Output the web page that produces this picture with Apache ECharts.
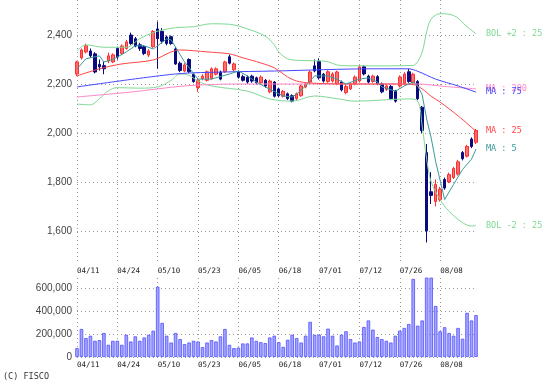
<!DOCTYPE html>
<html><head><meta charset="utf-8">
<script src="https://cdn.jsdelivr.net/npm/echarts@6/dist/echarts.min.js"></script>
<style>html,body{margin:0;padding:0;background:#fff}#c{width:557px;height:384px}</style>
</head><body><div id="c"></div>
<script>
const dates = ['04/11','04/12','04/15','04/16','04/17','04/18','04/19','04/22','04/23','04/24',
'04/25','04/26','04/30','05/01','05/02','05/07','05/08','05/09','05/10',
'05/13','05/14','05/15','05/16','05/17','05/20','05/21','05/22','05/23',
'05/24','05/27','05/28','05/29','05/30','05/31','06/03','06/04','06/05',
'06/06','06/07','06/10','06/11','06/12','06/13','06/14','06/17','06/18',
'06/19','06/20','06/21','06/24','06/25','06/26','06/27','06/28','07/01',
'07/02','07/03','07/04','07/05','07/08','07/09','07/10','07/11','07/12',
'07/16','07/17','07/18','07/19','07/22','07/23','07/24','07/25','07/26',
'07/29','07/30','07/31','08/01','08/02','08/05','08/06','08/07','08/08',
'08/09','08/13','08/14','08/15','08/16','08/19','08/20','08/21'];
const opens = [2241,2307,2331,2335,2323,2280,2275,2294,2290,2345,2325,2345,2400,2385,2360,2352,2318,2352,2425,2415,2392,2393,2343,2285,2253,2300,2240,2185,2222,2215,2222,2240,2249,2250,2311,2258,2250,2230,2228,2232,2225,2205,2215,2168,2208,2180,2150,2160,2152,2140,2152,2188,2208,2274,2292,2240,2210,2212,2200,2208,2165,2180,2200,2212,2270,2232,2210,2230,2200,2178,2190,2170,2192,2200,2250,2205,2210,2105,1920,1760,1720,1728,1810,1800,1818,1832,1920,1905,1975,1962];
const closes = [2290,2339,2356,2315,2249,2270,2262,2315,2319,2310,2355,2372,2365,2355,2345,2325,2335,2415,2385,2375,2365,2365,2282,2255,2278,2250,2210,2215,2232,2250,2262,2262,2220,2290,2285,2282,2228,2215,2208,2212,2205,2228,2192,2212,2150,2152,2170,2140,2130,2160,2192,2200,2249,2253,2225,2212,2250,2241,2249,2176,2190,2200,2228,2270,2241,2208,2232,2200,2168,2192,2140,2130,2228,2241,2210,2240,2140,2010,1600,1745,1790,1770,1775,1830,1855,1882,1895,1945,1945,2010];
const highs = [2295,2345,2365,2345,2330,2300,2290,2328,2325,2352,2362,2380,2410,2392,2368,2358,2342,2420,2455,2428,2398,2398,2350,2292,2285,2305,2245,2222,2240,2255,2268,2268,2255,2295,2320,2288,2255,2238,2235,2238,2230,2235,2220,2218,2212,2185,2176,2165,2158,2165,2198,2206,2255,2300,2305,2245,2256,2248,2255,2214,2196,2206,2235,2276,2276,2238,2238,2236,2206,2198,2196,2176,2235,2248,2262,2246,2216,2110,1955,1840,1810,1780,1818,1838,1862,1890,1926,1952,1982,2016];
const lows = [2232,2300,2325,2308,2243,2255,2240,2285,2285,2300,2318,2340,2360,2350,2335,2318,2310,2348,2262,2365,2358,2360,2278,2248,2248,2245,2205,2168,2215,2210,2218,2235,2215,2245,2280,2252,2222,2210,2200,2205,2198,2200,2185,2162,2145,2145,2145,2135,2125,2135,2148,2182,2202,2248,2218,2206,2205,2206,2195,2170,2158,2175,2195,2206,2235,2202,2205,2195,2162,2172,2134,2124,2186,2195,2205,2200,2134,2000,1553,1710,1700,1720,1768,1795,1812,1826,1888,1900,1938,1955];
const volumes = [77000,244000,165000,185000,141000,147000,209000,106000,141000,141000,106000,194000,135000,180000,141000,170000,194000,229000,612000,297000,185000,126000,209000,156000,112000,126000,141000,135000,86000,126000,147000,135000,180000,244000,106000,77000,82000,118000,118000,170000,141000,129000,121000,170000,185000,129000,88000,150000,194000,165000,126000,185000,306000,194000,194000,180000,247000,185000,100000,194000,224000,156000,126000,135000,262000,318000,238000,174000,156000,141000,126000,185000,229000,253000,288000,680000,273000,318000,1250000,950000,444000,224000,259000,209000,185000,253000,159000,385000,318000,365000];
const priceTicks = [1600,1800,2000,2200,2400];
const volumeTicks = [0,200000,400000,600000];
const ma5 = [[0,2262],[2,2303],[5,2315],[6,2290],[8,2300],[11,2331],[13,2356],[15,2356],[17,2343],[18,2356],[20,2384],[21,2380],[22,2350],[24,2290],[27,2220],[30,2220],[34,2241],[36,2253],[38,2233],[40,2208],[42,2188],[46,2151],[48,2147],[49,2159],[51,2192],[53,2233],[56,2233],[58,2220],[60,2200],[63,2220],[65,2225],[67,2208],[68,2188],[71,2171],[73,2192],[75,2208],[76,2192],[77,2155],[78,2057],[79,1980],[80,1884],[81,1806],[82,1728],[84,1790],[86,1851],[88,1893],[89,1934]];
const ma25 = [[0,2233],[5,2262],[10,2282],[17,2298],[21,2331],[23,2339],[29,2331],[34,2323],[37,2307],[41,2286],[44,2266],[47,2229],[49,2212],[52,2204],[60,2200],[70,2200],[75,2198],[77,2180],[79,2150],[81,2126],[85,2070],[89,2007]];
const ma75 = [[0,2188],[22,2241],[33,2249],[44,2253],[66,2262],[74,2262],[76,2252],[80,2220],[85,2192],[89,2167]];
const ma200 = [[0,2147],[12,2167],[24,2192],[35,2200],[76,2200],[82,2190],[89,2180]];
const bolUp = [[0,2335],[2,2360],[6,2350],[11,2350],[14,2385],[17,2410],[19,2420],[22,2430],[26,2434],[30,2446],[34,2444],[38,2425],[42,2395],[44,2360],[45,2331],[47,2303],[50,2296],[55,2294],[59,2275],[67,2274],[75,2276],[76,2292],[77,2330],[78,2413],[79,2465],[81,2487],[84,2480],[87,2434],[89,2405]];
const bolLow = [[0,2118],[3,2115],[5,2140],[7,2172],[9,2185],[14,2183],[18,2188],[21,2215],[23,2241],[25,2235],[27,2212],[30,2192],[38,2171],[43,2139],[48,2130],[53,2151],[58,2140],[62,2130],[74,2139],[76,2130],[77,2028],[78,1893],[79,1800],[81,1728],[83,1680],[86,1634],[88,1620],[89,1622]];

const candles = opens.map((o, i) => [o, closes[i], lows[i], highs[i]]);
const gridLine = { show: true, lineStyle: { color: '#999', type: [1, 3], width: 1 } };
const every9 = (idx) => idx % 9 === 0;
const mono = 'DejaVu Sans Mono, monospace';
function lineSeries(name, data, color, label, smooth) {
  return {
    name, type: 'line', xAxisIndex: 0, yAxisIndex: 0, data, smooth: smooth,
    showSymbol: false, symbol: 'none', silent: true,
    lineStyle: { color, width: 1 },
    endLabel: { show: true, formatter: label, color, fontFamily: mono, fontSize: 8.5, distance: 10 }
  };
}
const chart = echarts.init(document.getElementById('c'), null, { renderer: 'canvas' });
chart.setOption({
  animation: false,
  backgroundColor: '#fff',
  grid: [
    { left: 77, width: 399, top: 0, height: 263 },
    { left: 77, width: 399, top: 278, height: 79 }
  ],
  xAxis: [
    { type: 'category', gridIndex: 0, data: dates, boundaryGap: false,
      axisLine: { show: false }, axisTick: { show: false },
      splitLine: Object.assign({ interval: (i) => every9(i) }, gridLine),
      axisLabel: { interval: (i) => every9(i), align: 'left', margin: 4, fontFamily: mono, fontSize: 7.5, color: '#222' } },
    { type: 'category', gridIndex: 1, data: dates, boundaryGap: false,
      axisLine: { show: false }, axisTick: { show: false },
      splitLine: Object.assign({ interval: (i) => every9(i) }, gridLine),
      axisLabel: { interval: (i) => every9(i), align: 'left', margin: 4, fontFamily: mono, fontSize: 7.5, color: '#222' } }
  ],
  yAxis: [
    { type: 'value', gridIndex: 0, min: 1469, max: 2543, scale: true,
      axisLine: { show: false }, axisTick: { show: false, customValues: priceTicks },
      splitLine: gridLine,
      axisLabel: { customValues: priceTicks, margin: 5, fontFamily: 'Liberation Sans, Arial, sans-serif', fontSize: 10, color: '#444',
        formatter: (v) => v.toLocaleString('en-US') } },
    { type: 'value', gridIndex: 1, min: 0, max: 688000,
      axisLine: { show: false }, axisTick: { show: false, customValues: volumeTicks },
      splitLine: gridLine,
      axisLabel: { customValues: volumeTicks, margin: 5, fontFamily: 'Liberation Sans, Arial, sans-serif', fontSize: 10, color: '#444',
        formatter: (v) => v.toLocaleString('en-US') } }
  ],
  graphic: [{ type: 'text', left: 3, top: 372, style: { text: '(C) FISCO', font: '8.5px DejaVu Sans Mono, monospace', fill: '#333' } }],
  series: [
    lineSeries('BOL+2', bolUp, '#7fd894', 'BOL +2 : 25', 0.35),
    lineSeries('BOL-2', bolLow, '#7fd894', 'BOL -2 : 25', 0.35),
    lineSeries('MA200', ma200, '#ff88c8', 'MA : 200', 0.3),
    lineSeries('MA75', ma75, '#4646ff', 'MA : 75', 0.3),
    lineSeries('MA25', ma25, '#ff4444', 'MA : 25', 0.3),
    { type: 'candlestick', xAxisIndex: 0, yAxisIndex: 0, data: candles, barWidth: 3, clip: false,
      itemStyle: { color: '#ff6e6e', color0: '#0a0a80', borderColor: '#ff2e2e', borderColor0: '#0a0a80', borderWidth: 1 } },
    lineSeries('MA5', ma5, '#3a9a9a', 'MA : 5', false),
    { type: 'bar', xAxisIndex: 1, yAxisIndex: 1, data: volumes, barWidth: 3.5,
      itemStyle: { color: '#a4a4ff', borderColor: '#5050ff', borderWidth: 0.8 } }
  ]
});
</script></body></html>
